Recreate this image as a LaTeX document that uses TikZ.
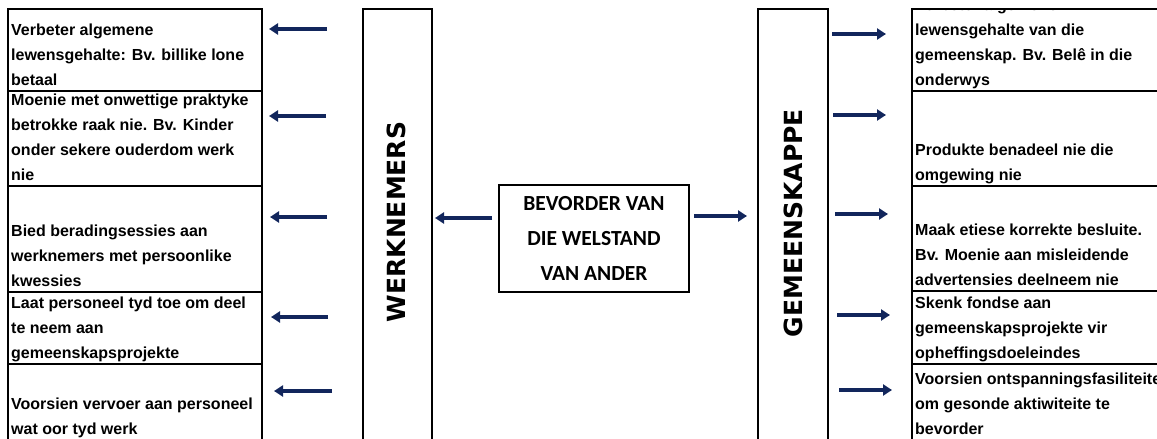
\documentclass[tikz,border=0pt]{standalone}
\usepackage{fontspec}
\setmainfont{Liberation Sans}
\newfontfamily\calfont{Carlito}
\newfontfamily\dvfont{DejaVu Sans}
\usetikzlibrary{arrows.meta}
\definecolor{navy}{RGB}{18,38,92}
\begin{document}
\begin{tikzpicture}[x=1pt,y=-1pt,
  cellbox/.style={draw=black, line width=1.8pt, rectangle, inner sep=0pt, anchor=north west},
  celltext/.style={anchor=south west, inner sep=0pt, align=left, xshift=4pt, yshift=-1pt,
    font=\fontsize{16}{25}\selectfont\bfseries},
  arr/.style={draw=navy, line width=3.5pt, -{Triangle[length=9pt,width=11pt]}},
  vtext/.style={rotate=90, inner sep=0pt, font=\dvfont\fontsize{25}{30}\selectfont\bfseries},
  midbox/.style={draw=black, line width=1.8pt, rectangle, inner sep=0pt, align=center,
    font=\calfont\fontsize{21.5}{35}\selectfont\bfseries}
]
\useasboundingbox (0,0) rectangle (1157,439);
\clip (0,0) rectangle (1157,439);

% left cells
\node[cellbox, minimum width=254pt, minimum height=82pt]  (L1) at (7,8) {};
\node[cellbox, minimum width=254pt, minimum height=95pt]  (L2) at (7,90) {};
\node[cellbox, minimum width=254pt, minimum height=106pt] (L3) at (7,185) {};
\node[cellbox, minimum width=254pt, minimum height=72pt]  (L4) at (7,291) {};
\node[cellbox, minimum width=254pt, minimum height=76pt]  (L5) at (7,363) {};

\node[celltext] (t1) at (L1.south west) {Verbeter algemene\\lewensgehalte: Bv. billike lone\\betaal\strut};
\node[celltext] (t2) at (L2.south west) {Moenie met onwettige praktyke\\betrokke raak nie. Bv. Kinder\\onder sekere ouderdom werk\\nie\strut};
\node[celltext] (t3) at (L3.south west) {Bied beradingsessies aan\\werknemers met persoonlike\\kwessies\strut};
\node[celltext] (t4) at (L4.south west) {Laat personeel tyd toe om deel\\te neem aan\\gemeenskapsprojekte\strut};
\node[celltext] (t5) at (L5.south west) {Voorsien vervoer aan personeel\\wat oor tyd werk\strut};

% right cells
\node[cellbox, minimum width=260pt, minimum height=82pt]  (R1) at (911,8) {};
\node[cellbox, minimum width=260pt, minimum height=95pt]  (R2) at (911,90) {};
\node[cellbox, minimum width=260pt, minimum height=105pt] (R3) at (911,185) {};
\node[cellbox, minimum width=260pt, minimum height=73pt]  (R4) at (911,290) {};
\node[cellbox, minimum width=260pt, minimum height=76pt]  (R5) at (911,363) {};

\begin{scope}
  \clip (900,8) rectangle (1160,95);
  \node[celltext] (s1) at (R1.south west) {Verbeter algemene\\lewensgehalte van die\\gemeenskap. Bv. Belê in die\\onderwys\strut};
\end{scope}
\node[celltext] (s2) at (R2.south west) {Produkte benadeel nie die\\omgewing nie\strut};
\node[celltext] (s3) at (R3.south west) {Maak etiese korrekte besluite.\\Bv. Moenie aan misleidende\\advertensies deelneem nie\strut};
\node[celltext] (s4) at (R4.south west) {Skenk fondse aan\\gemeenskapsprojekte vir\\opheffingsdoeleindes\strut};
\node[celltext] (s5) at (R5.south west) {Voorsien ontspanningsfasiliteite\\om gesonde aktiwiteite te\\bevorder\strut};

% vertical boxes
\node[cellbox, minimum width=69pt, minimum height=431pt] (W) at (362,8) {};
\node[cellbox, minimum width=70pt, minimum height=431pt] (G) at (757,8) {};
\node[vtext] (wt) at (396.5,222) {WERKNEMERS};
\node[vtext] (gt) at (793.5,223) {GEMEENSKAPPE};

% centre box
\node[midbox, minimum width=190pt, minimum height=107pt] (C) at (594,238.5) {BEVORDER VAN\\DIE WELSTAND\\VAN ANDER};

% arrow end points
\coordinate (la1) at (327,29);  \coordinate (lb1) at (269,29);
\coordinate (la2) at (326,116); \coordinate (lb2) at (269,116);
\coordinate (la3) at (327,217); \coordinate (lb3) at (270,217);
\coordinate (la4) at (328,317); \coordinate (lb4) at (271,317);
\coordinate (la5) at (332,391); \coordinate (lb5) at (274,391);

\coordinate (ra1) at (832,34);  \coordinate (rb1) at (886,34);
\coordinate (ra2) at (833,115); \coordinate (rb2) at (886,115);
\coordinate (ra3) at (835,214); \coordinate (rb3) at (888,214);
\coordinate (ra4) at (837,315); \coordinate (rb4) at (890,315);
\coordinate (ra5) at (839,390); \coordinate (rb5) at (892,390);

\coordinate (ca) at (492,218); \coordinate (cb) at (435,218);
\coordinate (cc) at (694,216); \coordinate (cd) at (747,216);

\foreach \i in {1,...,5} {
  \draw[arr] (la\i) -- (lb\i);
  \draw[arr] (ra\i) -- (rb\i);
}
\draw[arr] (ca) -- (cb);
\draw[arr] (cc) -- (cd);
\end{tikzpicture}
\end{document}
